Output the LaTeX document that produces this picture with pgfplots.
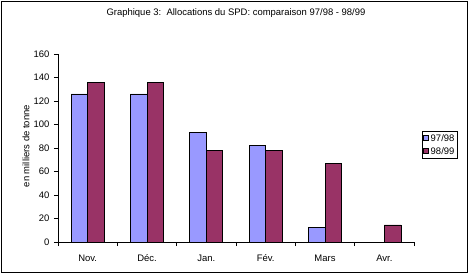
\documentclass[border=0pt]{standalone}
\usepackage{pgfplots}
\pgfplotsset{compat=1.18}
\usepackage{fontspec}
\setmainfont{Liberation Sans}
\definecolor{serA}{HTML}{9999FF}
\definecolor{serB}{HTML}{993366}
\begin{document}
\begin{tikzpicture}[x=1bp,y=1bp]
\useasboundingbox (-58,-37) rectangle (413,242);
\draw[line width=0.9bp] (-57,-30.5) rectangle (409.5,240.5);
\begin{axis}[
    at={(0,0)}, anchor=south west,
    scale only axis,
    width=356bp, height=188bp,
    font=\fontsize{9.5}{11}\selectfont,
    ybar=0pt,
    bar width=0.28,
    xmin=-0.5, xmax=5.5,
    ymin=0, ymax=160,
    xtick={0,...,5},
    xticklabels={Nov., Déc., Jan., Fév., Mars, Avr.},
    minor xtick={-0.5,0.5,...,5.5},
    ytick distance=20,
    axis x line*=bottom,
    axis y line*=left,
    tick align=outside,
    major x tick style={draw=none},
    major tick length=4bp,
    minor tick length=4bp,
    tick style={black, line width=0.8bp},
    axis line style={line width=0.8bp},
    xticklabel style={yshift=-5bp},
    yticklabel style={xshift=-1bp},
    /pgf/number format/assume math mode=true,
    ylabel={en milliers de tonne},
    ylabel style={at={(axis description cs:-0.09,0.51)}, anchor=center},
    title={Graphique 3:\ \ Allocations du SPD: comparaison 97/98 - 98/99},
    title style={at={(axis description cs:0.5,1)}, anchor=center, yshift=34.5bp},
    legend style={at={(1.022,0.59)}, anchor=north west, draw=black,
        line width=0.8bp, inner sep=1bp, row sep=0.5bp,
        font=\fontsize{9.5}{11}\selectfont,
        /tikz/every odd column/.append style={column sep=0bp},
        /tikz/every even column/.append style={column sep=0bp}},
    legend image code/.code={\draw[#1, line width=0.5bp] (0bp,-2bp) rectangle (5bp,3bp);},
]
\addplot[fill=serA, draw=black, line width=0.9bp] coordinates {
    (0,126) (1,126) (2,93) (3,82) (4,12.5)};
\addplot[fill=serB, draw=black, line width=0.9bp] coordinates {
    (0,136) (1,136) (2,78) (3,78) (4,67) (5,14.5)};
\legend{97/98, 98/99}
\end{axis}
\end{tikzpicture}
\end{document}
